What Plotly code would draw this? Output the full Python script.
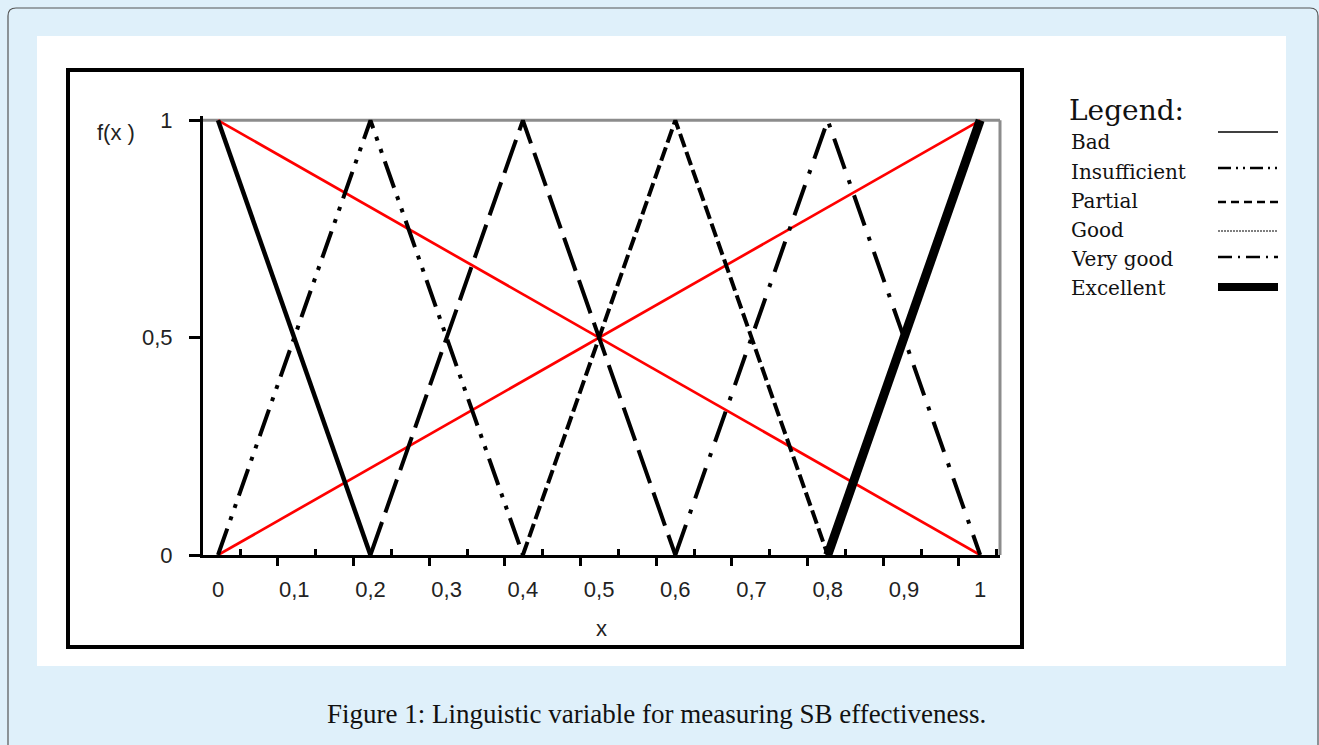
import plotly.graph_objects as go

# ---------------- data ----------------
series_names = ["Bad", "Insufficient", "Partial", "Good", "Very good", "Excellent"]

bad_x = [0.0, 0.2]
bad_y = [1.0, 0.0]
insufficient_x = [0.0, 0.2, 0.4]
insufficient_y = [0.0, 1.0, 0.0]
partial_x = [0.2, 0.4, 0.6]
partial_y = [0.0, 1.0, 0.0]
good_x = [0.4, 0.6, 0.8]
good_y = [0.0, 1.0, 0.0]
very_good_x = [0.6, 0.8, 1.0]
very_good_y = [0.0, 1.0, 0.0]
excellent_x = [0.8, 1.0]
excellent_y = [0.0, 1.0]
red_down_x = [0.0, 1.0]
red_down_y = [1.0, 0.0]
red_up_x = [0.0, 1.0]
red_up_y = [0.0, 1.0]

x_tick_values = [0.0, 0.1, 0.2, 0.3, 0.4, 0.5, 0.6, 0.7, 0.8, 0.9, 1.0]
y_tick_values = [0.0, 0.5, 1.0]

caption = "Figure 1: Linguistic variable for measuring SB effectiveness."

# ---------------- geometry ----------------
W, H = 1319, 745
ML, MR, MT, MB = 203, 319, 116, 190
PW, PH = W - ML - MR, H - MT - MB


def fx(px):
    return (px - ML) / PW


def fy(py):
    return (H - MB - py) / PH


styles = {
    "Bad": dict(width=4.5, dash="solid"),
    "Insufficient": dict(width=4, dash="28px,9px,4px,9px,4px,9px"),
    "Partial": dict(width=4, dash="35px,10px"),
    "Good": dict(width=4, dash="14px,5px"),
    "Very good": dict(width=4, dash="32px,12px,4px,12px"),
    "Excellent": dict(width=9, dash="solid"),
}
legend_styles = {
    "Bad": dict(width=1.5, dash="solid"),
    "Insufficient": dict(width=2.5, dash="13px,5px,2px,5px,2px,5px"),
    "Partial": dict(width=2.5, dash="8px,5px"),
    "Good": dict(width=1.2, dash="2px,1px"),
    "Very good": dict(width=2.5, dash="14px,6px,2px,6px"),
    "Excellent": dict(width=8, dash="solid"),
}

xs = [bad_x, insufficient_x, partial_x, good_x, very_good_x, excellent_x]
ys = [bad_y, insufficient_y, partial_y, good_y, very_good_y, excellent_y]

fig = go.Figure()

# red diagonals first (drawn beneath)
fig.add_trace(go.Scatter(x=red_down_x, y=red_down_y, mode="lines",
                         line=dict(color="#ff0000", width=2.7), showlegend=False,
                         name="red descending"))
fig.add_trace(go.Scatter(x=red_up_x, y=red_up_y, mode="lines",
                         line=dict(color="#ff0000", width=2.7), showlegend=False,
                         name="red ascending"))

for name, x, y in zip(series_names, xs, ys):
    st = styles[name]
    fig.add_trace(go.Scatter(x=x, y=y, mode="lines", name=name,
                             line=dict(color="black", width=st["width"], dash=st["dash"]),
                             showlegend=False))

# dummy trace for the secondary x axis (upward tick marks)
fig.add_trace(go.Scatter(x=[None], y=[None], xaxis="x2", showlegend=False,
                         hoverinfo="skip"))

x_range = [-0.0197, 1.026]
tick_font = dict(family="Liberation Sans, Arial, sans-serif", size=22, color="#222")
serif = "DejaVu Serif, Georgia, serif"

shapes = []
annotations = []

# outer rounded frame
shapes.append(dict(type="path", xref="paper", yref="paper", layer="below",
                   path=f"M {fx(8)},{fy(760)} L {fx(8)},{fy(16)} Q {fx(8)},{fy(8)} {fx(16)},{fy(8)} "
                        f"L {fx(1310)},{fy(8)} Q {fx(1318)},{fy(8)} {fx(1318)},{fy(16)} L {fx(1318)},{fy(760)}",
                   line=dict(color="#555", width=1.2)))
# white panel
shapes.append(dict(type="rect", xref="paper", yref="paper", layer="below",
                   x0=fx(37), x1=fx(1286), y0=fy(666), y1=fy(36),
                   fillcolor="white", line=dict(width=0)))
# black chart frame
shapes.append(dict(type="rect", xref="paper", yref="paper", layer="below",
                   x0=fx(68), x1=fx(1022), y0=fy(647), y1=fy(70),
                   fillcolor="white", line=dict(color="black", width=4)))
# grey top and right plot border
shapes.append(dict(type="line", xref="x domain", yref="y", x0=0, x1=1, y0=1, y1=1,
                   line=dict(color="#8c8c8c", width=3), layer="below"))
shapes.append(dict(type="line", xref="x domain", yref="y", x0=1, x1=1, y0=0, y1=1,
                   line=dict(color="#8c8c8c", width=3), layer="below"))

# legend (samples on the right side of the labels)
annotations.append(dict(text="Legend:", xref="paper", yref="paper", x=fx(1067), y=fy(110),
                        xanchor="left", yanchor="middle", showarrow=False,
                        font=dict(family=serif, size=28, color="#111")))
label_y = [142, 172, 201, 230, 259, 288]
sample_y = [132, 168, 202, 231, 257, 287]
for name, ly, sy in zip(series_names, label_y, sample_y):
    annotations.append(dict(text=name, xref="paper", yref="paper", x=fx(1069), y=fy(ly),
                            xanchor="left", yanchor="middle", showarrow=False,
                            font=dict(family=serif, size=20, color="#111")))
    st = legend_styles[name]
    shapes.append(dict(type="line", xref="paper", yref="paper",
                       x0=fx(1218), x1=fx(1278), y0=fy(sy), y1=fy(sy),
                       line=dict(color="black", width=st["width"], dash=st["dash"])))

# f(x) label
annotations.append(dict(text="f(x )", xref="paper", yref="paper", x=fx(116), y=fy(133),
                        xanchor="center", yanchor="middle", showarrow=False, font=tick_font))
# caption
annotations.append(dict(text=caption, xref="paper", yref="paper", x=fx(656), y=fy(714),
                        xanchor="center", yanchor="middle", showarrow=False,
                        font=dict(family="Liberation Serif, Cambria, serif", size=27, color="#111")))

down_tick0 = -0.021
up_tick0 = 0.029
tick_step = 0.0993

fig.update_layout(
    width=W, height=H,
    margin=dict(l=ML, r=MR, t=MT, b=MB),
    paper_bgcolor="#dff0fa",
    plot_bgcolor="rgba(0,0,0,0)",
    separators=",.",
    showlegend=False,
    shapes=shapes,
    annotations=annotations,
    xaxis=dict(range=x_range, tickmode="array", tickvals=x_tick_values,
               ticks="", showgrid=False, zeroline=False,
               showline=True, linecolor="black", linewidth=3,
               tickfont=tick_font, ticklabelstandoff=13,
               minor=dict(ticks="outside", tickmode="linear", tick0=down_tick0, dtick=tick_step,
                          ticklen=8, tickwidth=3, tickcolor="black", showgrid=False),
               title=dict(text="x", font=tick_font, standoff=20)),
    xaxis2=dict(range=x_range, overlaying="x", anchor="y", side="bottom",
                tickmode="linear", tick0=up_tick0, dtick=tick_step,
                ticks="inside", ticklen=6, tickwidth=3, tickcolor="black",
                showticklabels=False, showgrid=False, zeroline=False, showline=False),
    yaxis=dict(range=[0, 1.01], tickmode="array", tickvals=y_tick_values,
               ticks="outside", ticklen=11, tickwidth=3, tickcolor="black",
               showgrid=False, zeroline=False, showline=True, linecolor="black", linewidth=3,
               tickfont=tick_font, ticklabelstandoff=12),
)

fig.write_html("out.html", config={"displayModeBar": False},
               post_script="document.body.style.margin='0px';")
